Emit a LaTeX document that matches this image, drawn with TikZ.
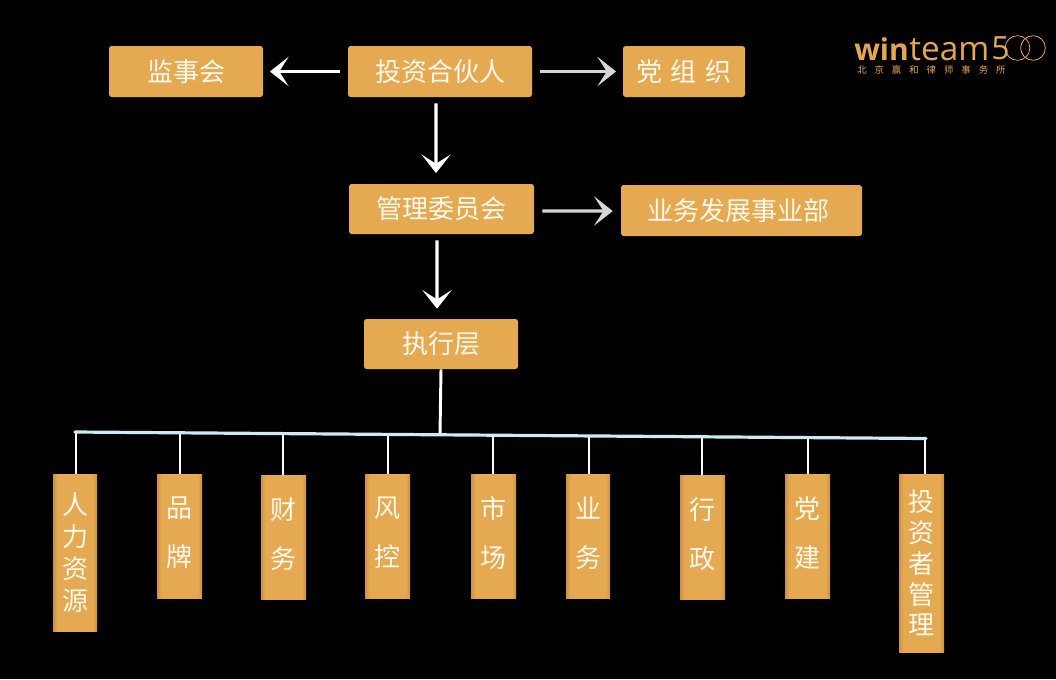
\documentclass[tikz,border=0pt]{standalone}
\usepackage{fontspec}
\setmainfont{Noto Sans CJK SC}
\newfontfamily\logowide[LetterSpace=86]{Noto Sans CJK SC}
\newfontfamily\logolatin{Open Sans}
\usetikzlibrary{arrows.meta, positioning, calc}
\definecolor{boxfill}{HTML}{E5A951}
\definecolor{boxedge}{HTML}{C99442}
\definecolor{boxtext}{HTML}{FFF9EC}
\definecolor{logogold}{HTML}{E2A654}
\definecolor{busblue}{HTML}{CFE9F6}
\definecolor{greyline}{HTML}{D6D6D6}
\pgfdeclarehorizontalshading{edgeshade}{100bp}{color(0bp)=(boxedge); color(25bp)=(boxedge);
  color(30bp)=(boxfill); color(70bp)=(boxfill); color(75bp)=(boxedge); color(100bp)=(boxedge)}
\tikzset{
  box/.style 2 args={rectangle,rounded corners=2pt,fill=boxfill,text=boxtext,inner sep=0pt,
    minimum width=#1*0.75pt,minimum height=#2*0.75pt,font=\fontsize{19.5}{24}\selectfont},
  vbox/.style 2 args={rectangle,shade,shading=edgeshade,text=boxtext,inner sep=0pt,align=center,
    minimum width=#1*0.75pt,minimum height=#2*0.75pt,font=\fontsize{19.5}{24}\selectfont},
  wide/.style={font=\fontsize{19.5}{36.7}\selectfont},
  arrow/.style={-{Stealth[length=14pt,width=22pt,inset=7pt]},line width=2.5pt,#1},
  bus/.style={line width=2.4pt,busblue},
  stem/.style={line width=2.2pt,white},
}
\begin{document}
\begin{tikzpicture}[x=0.75pt,y=-0.75pt]
    \fill[black] (0,0) rectangle (1056,679);
    % top rows
    \node[box={154}{51}] (jianshi) at (186,71.5) {监事会};
    \node[box={184}{51}] (touzi) at (440,71.5) {投资合伙人};
    \node[box={122}{51}] (dangzu) at (684,71.5) {党\hspace{2pt} 组\hspace{2pt} 织};
    \node[box={185}{50}] (guanli) at (441.5,209) {管理委员会};
    \node[box={241}{51}] (yewubu) at (741.5,210.5) {业务发展事业部\kern4pt};
    \node[box={154}{50}] (zhixing) at (441,344) {执行层};
    % departments
    \node[vbox={44}{157}] (renli) at (75,552.5) {人\\力\\资\\源};
    \node[vbox={45}{124},wide] (pinpai) at (179.5,536) {品\\牌\vspace{4.5pt}};
    \node[vbox={45}{124},wide] (caiwu) at (283.5,537) {财\\务\vspace{4.5pt}};
    \node[vbox={45}{124},wide] (fengkong) at (387.5,536) {风\\控\vspace{4.5pt}};
    \node[vbox={45}{124},wide] (shichang) at (493.5,536) {市\\场\vspace{4.5pt}};
    \node[vbox={44}{124},wide] (yewu) at (588,536) {业\\务\vspace{4.5pt}};
    \node[vbox={45}{124},wide] (xingzheng) at (702.5,537) {行\\政\vspace{4.5pt}};
    \node[vbox={45}{124},wide] (dangjian) at (807.5,536) {党\\建\vspace{4.5pt}};
    \node[vbox={45}{178},font=\fontsize{19.5}{23.1}\selectfont] (touzizhe) at (921.5,563) {投\\资\\者\\管\\理};
    % arrows
    \draw[arrow=white,shorten <=6pt,shorten >=5pt] (touzi.west) -- (jianshi.east);
    \draw[arrow=greyline,shorten <=6pt,shorten >=5pt] (touzi.east) -- (dangzu.west);
    \draw[arrow=white,shorten <=4.5pt,shorten >=8pt] ([xshift=-3pt]touzi.south) -- ([xshift=-4.1pt]guanli.north);
    \draw[arrow=greyline,shorten <=6pt,shorten >=6pt] ([yshift=-1.5pt]guanli.east) -- ([yshift=-0.4pt]yewubu.west);
    \draw[arrow=white,shorten <=4.5pt,shorten >=7.5pt] ([xshift=-3.4pt]guanli.south) -- ([xshift=-3pt]zhixing.north);
    % bus
    \coordinate (busl) at (75,432);
    \coordinate (busr) at (926,438.5);
    \coordinate (busm) at (440,434.5);
    \draw[stem] (zhixing.south) -- (busm);
    \foreach \name/\bx/\by in {renli/76/432,pinpai/180/433,caiwu/283/434,fengkong/388/434.5,
        shichang/493/435,yewu/589/436,xingzheng/702/437,dangjian/808/437.5,touzizhe/925/438}{
      \coordinate (top\name) at (\bx,\by);
      \draw[stem] (top\name) -- (top\name |- \name.north);
    }
    \draw[bus,line cap=round] (busl) -- (busr);
    % logo
    \node[anchor=base west,inner sep=0pt,text=logogold,font=\logolatin\fontsize{22.5}{24}\selectfont\bfseries] (win) at (854,60) {win};
    \node[right=0pt of win.base east,anchor=base west,inner sep=0pt,text=logogold,font=\logolatin\fontsize{25}{25}\selectfont] (team) {team};
    \node[anchor=base west,inner sep=0pt,text=logogold,font=\logolatin\fontsize{24}{24}\selectfont] (five) at (991,59) {5};
    \node[circle,draw=logogold,line width=0.6pt,minimum size=18.5pt,inner sep=0pt] (ringa) at (1017.5,48) {};
    \node[circle,draw=logogold,line width=0.6pt,minimum size=18.5pt,inner sep=0pt] (ringb) at (1033,48) {};
    \node[anchor=west,inner sep=0pt,text=logogold,font=\logowide\fontsize{7}{7}\selectfont] (firm) at (857,70) {北京赢和律师事务所};
\end{tikzpicture}
\end{document}
